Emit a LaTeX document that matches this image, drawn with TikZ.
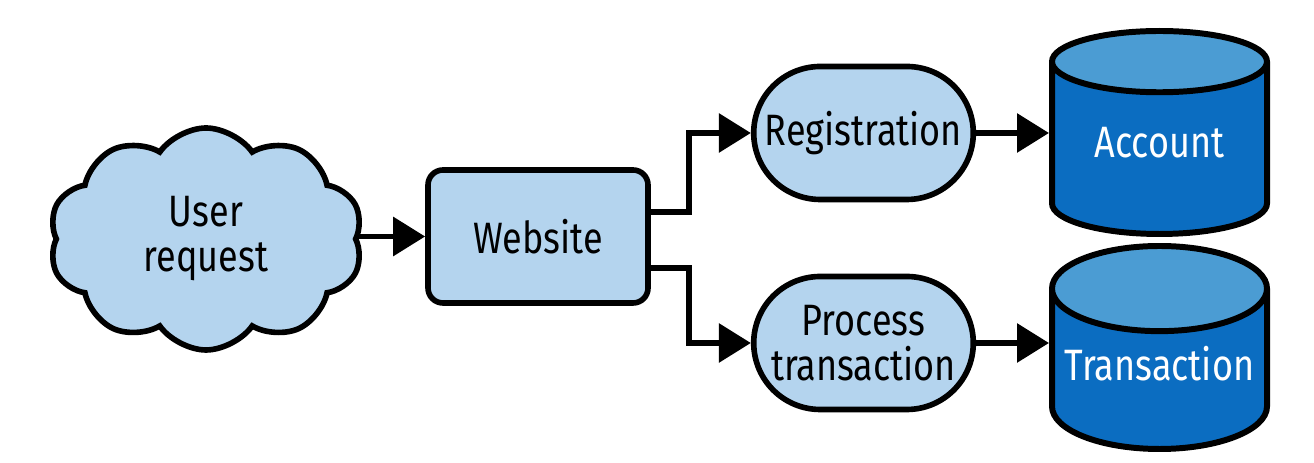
\documentclass[tikz,border=0pt]{standalone}
\usepackage{fontspec}
\setmainfont{Fira Sans}[FakeStretch=0.82]
\usetikzlibrary{arrows.meta,positioning,shapes.geometric,shapes.misc,shapes.symbols}
\definecolor{lightfill}{HTML}{B4D4EE}
\definecolor{dbbody}{HTML}{0B6DC1}
\definecolor{dbtop}{HTML}{4B9CD3}
\tikzset{
	proc/.style={draw,line width=1.6pt,fill=lightfill,font=\fontsize{12.5}{12.8}\selectfont,align=center},
	conn/.style={line width=1.7pt,-{Triangle[length=0.32cm,width=0.38cm]}},
	db/.style={cylinder,shape border rotate=90,aspect=0.4,draw,line width=1.7pt,
		cylinder uses custom fill,cylinder body fill=dbbody,cylinder end fill=dbtop,
		text=white,font=\fontsize{12.5}{12.8}\selectfont,text height=0.32cm,text depth=0.3cm,
		minimum width=2.15cm,minimum height=2.03cm,anchor=shape center}
}
\begin{document}
\begin{tikzpicture}
	\useasboundingbox (0,0) rectangle (13.14,-4.63);

	\node [proc,cloud,cloud puffs=10,cloud puff arc=110,aspect=1.45,
		minimum width=3.14cm,minimum height=2.22cm] (user) at (2.06,-2.39) {User\\request};
	\node [proc,rounded corners=0.15cm,minimum width=2.2cm,minimum height=1.33cm] (web) at (5.38,-2.365) {Website};
	\node [proc,rounded rectangle,minimum width=2.43cm,minimum height=1.33cm] (reg) at (8.635,-1.33) {Registration};
	\node [proc,rounded rectangle,minimum width=2.43cm,minimum height=1.33cm] (ptx) at (8.635,-3.43) {Process\\transaction};
	\node [db] (acct) at (11.595,-1.325) {Account};
	\node [db] (txn) at (11.595,-3.475) {Transaction};

	\draw [conn] (user.east |- web.west) -- (web.west);
	\draw [conn] ([yshift=0.245cm]web.east) -- ++(0.38,0) |- (reg.west);
	\draw [conn] ([yshift=-0.315cm]web.east) -- ++(0.38,0) |- (ptx.west);
	\draw [conn] (reg.east) -- (acct.west |- reg.east);
	\draw [conn] (ptx.east) -- (txn.west |- ptx.east);
\end{tikzpicture}
\end{document}
